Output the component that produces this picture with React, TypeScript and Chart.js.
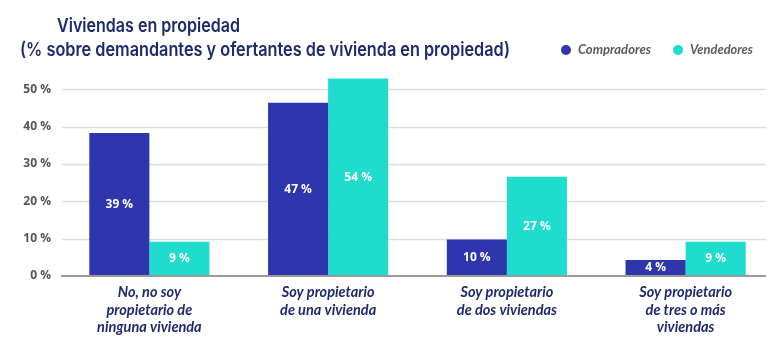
import React, { useEffect, useRef } from 'react';
import { Chart, registerables } from 'chart.js';
Chart.register(...registerables);

const categories: string[][] = [
  ['No, no soy', 'propietario de', 'ninguna vivienda'],
  ['Soy propietario', 'de una vivienda'],
  ['Soy propietario', 'de dos viviendas'],
  ['Soy propietario', 'de tres o más', 'viviendas'],
];
const compradores = [38.3, 46.4, 9.8, 4.3];
const vendedores = [9.2, 52.9, 26.6, 9.2];
const compradoresLabels = ['39 %', '47 %', '10 %', '4 %'];
const vendedoresLabels = ['9 %', '54 %', '27 %', '9 %'];
const yTickValues = [0, 10, 20, 30, 40, 50];
const titleLines = ['Viviendas en propiedad', '(% sobre demandantes y ofertantes de vivienda en propiedad)'];
const seriesNames = ['Compradores', 'Vendedores'];

const BLUE = '#2e36ad';
const TEAL = '#1fdccf';
const NAVY = '#1e2a6e';

function fitText(ctx: CanvasRenderingContext2D, text: string, x: number, y: number, width: number) {
  const w = ctx.measureText(text).width;
  const s = width / w;
  ctx.save();
  ctx.translate(x, y);
  ctx.scale(s, 1);
  ctx.fillText(text, 0, 0);
  ctx.restore();
}

const overlayPlugin = {
  id: 'overlay',
  beforeDatasetsDraw(chart: any) {
    const ctx = chart.ctx;
    const y = chart.scales.y;
    ctx.save();
    ctx.strokeStyle = '#dedede';
    ctx.lineWidth = 1.5;
    yTickValues.forEach((v) => {
      if (v === 0) return;
      const py = Math.round(y.getPixelForValue(v)) + 0.5;
      ctx.beginPath();
      ctx.moveTo(62, py);
      ctx.lineTo(766, py);
      ctx.stroke();
    });
    ctx.restore();
  },
  afterDatasetsDraw(chart: any) {
    const ctx = chart.ctx;
    const y = chart.scales.y;
    ctx.save();
    ctx.strokeStyle = '#9a9a9a';
    ctx.lineWidth = 2;
    const by = y.getPixelForValue(0);
    ctx.beginPath();
    ctx.moveTo(61, by);
    ctx.lineTo(766, by);
    ctx.stroke();
    const labelSets = [compradoresLabels, vendedoresLabels];
    ctx.fillStyle = '#ffffff';
    ctx.font = 'bold 12px "Open Sans", Lato, sans-serif';
    ctx.textAlign = 'center';
    ctx.textBaseline = 'middle';
    chart.data.datasets.forEach((ds: any, di: number) => {
      const meta = chart.getDatasetMeta(di);
      meta.data.forEach((el: any, i: number) => {
        const cy = (el.y + el.base) / 2;
        ctx.fillText(labelSets[di][i], el.x, cy);
      });
    });
    ctx.restore();
  },
  afterDraw(chart: any) {
    const ctx = chart.ctx;
    ctx.save();
    ctx.fillStyle = NAVY;
    ctx.textBaseline = 'alphabetic';
    ctx.textAlign = 'left';
    ctx.font = '600 19px Inter, sans-serif';
    fitText(ctx, titleLines[0], 57, 32, 183);
    fitText(ctx, titleLines[1], 20, 56, 490);
    const colors = [BLUE, TEAL];
    const xs = [566, 678];
    const widths = [73, 63];
    ctx.textBaseline = 'middle';
    ctx.font = 'italic bold 13px Lato, sans-serif';
    seriesNames.forEach((n, i) => {
      ctx.fillStyle = colors[i];
      ctx.beginPath();
      ctx.arc(xs[i], 50, 5, 0, Math.PI * 2);
      ctx.fill();
      ctx.fillStyle = '#5a5a5a';
      fitText(ctx, n, xs[i] + 12, 50, widths[i]);
    });
    ctx.restore();
  },
};

export default function App() {
  const ref = useRef<HTMLCanvasElement>(null);
  useEffect(() => {
    document.body.style.margin = '0';
    const chart = new Chart(ref.current!, {
      type: 'bar',
      data: {
        labels: categories,
        datasets: [
          { label: seriesNames[0], data: compradores, backgroundColor: BLUE, borderWidth: 0 },
          { label: seriesNames[1], data: vendedores, backgroundColor: TEAL, borderWidth: 0 },
        ],
      },
      options: {
        animation: false,
        responsive: false,
        maintainAspectRatio: false,
        layout: { padding: { top: 67, right: 6, left: 0, bottom: 0 } },
        plugins: { legend: { display: false }, title: { display: false }, tooltip: { enabled: false } },
        datasets: { bar: { categoryPercentage: 0.672, barPercentage: 1 } },
        scales: {
          x: {
            grid: { display: false, drawTicks: false },
            border: { display: false },
            ticks: {
              padding: 8,
              color: NAVY,
              maxRotation: 0,
              autoSkip: false,
              font: { family: 'Lato, sans-serif', size: 14.5, style: 'italic', weight: 'bold', lineHeight: 1.2 },
            },
            afterFit: (s: any) => { s.height = 78; },
          },
          y: {
            min: 0,
            max: 56,
            grid: { display: false, drawTicks: false },
            border: { display: false },
            afterBuildTicks: (s: any) => { s.ticks = yTickValues.map((v) => ({ value: v })); },
            ticks: {
              padding: 9,
              color: '#555555',
              font: { family: '"Open Sans", Lato, sans-serif', size: 12, weight: 'bold' },
              callback: (v: any) => `${v} %`,
            },
            afterFit: (s: any) => { s.width = 60; },
          },
        },
      },
      plugins: [overlayPlugin],
    });
    return () => chart.destroy();
  }, []);
  return (
    <div style={{ width: 781, height: 354, background: '#fff' }}>
      <canvas ref={ref} width={781} height={354} style={{ display: 'block' }} />
    </div>
  );
}
